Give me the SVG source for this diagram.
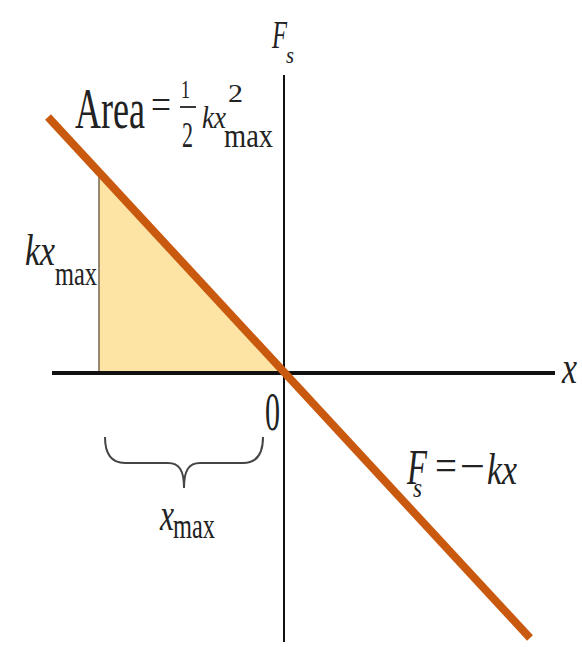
<svg xmlns="http://www.w3.org/2000/svg" width="582" height="647" viewBox="0 0 582 647">
<style>
.t{font-family:"Liberation Serif","Times New Roman",serif;fill:#222}
.i{font-style:italic}
.ax{stroke:#111;fill:none}
</style>
<rect width="582" height="647" fill="#fff"/>
<g id="area">
<polygon points="99,373 99,175 284,373" fill="#fde3a4"/>
<line x1="99" y1="176" x2="99" y2="373" stroke="#7d6e55" stroke-width="1.6"/>
</g>
<g id="connectors">
<line class="ax" x1="52" y1="373" x2="555" y2="373" stroke-width="4"/>
<line class="ax" x1="284" y1="75" x2="284" y2="642" stroke-width="2" stroke="#333"/>
<line x1="48" y1="117" x2="530" y2="638" stroke="#c9590f" stroke-width="8"/>
<path d="M105,437 C105,455 112,463 125,463 L168,463 C179,463 184,470 184,488 C184,470 189,463 200,463 L243,463 C256,463 263,455 263,437" fill="none" stroke="#444" stroke-width="2"/>
</g>
<g id="label-Fs-axis">
<text class="t i" x="272" y="48" font-size="40" textLength="15" lengthAdjust="spacingAndGlyphs">F</text>
<text class="t i" x="286" y="63" font-size="24" textLength="8" lengthAdjust="spacingAndGlyphs">s</text>
</g>
<g id="label-area">
<text class="t" x="75" y="128" font-size="56" textLength="70" lengthAdjust="spacingAndGlyphs">Area</text>
<text class="t" x="151" y="118" font-size="42" textLength="20" lengthAdjust="spacingAndGlyphs">=</text>
<text class="t" x="181" y="98" font-size="26" textLength="9" lengthAdjust="spacingAndGlyphs">1</text>
<line x1="180" y1="107" x2="196" y2="107" stroke="#222" stroke-width="1.8"/>
<text class="t" x="182" y="147" font-size="36" textLength="11" lengthAdjust="spacingAndGlyphs">2</text>
<text class="t i" x="202" y="128" font-size="32" textLength="24" lengthAdjust="spacingAndGlyphs">kx</text>
<text class="t" x="228" y="102" font-size="26" textLength="15" lengthAdjust="spacingAndGlyphs">2</text>
<text class="t" x="224" y="147" font-size="34" textLength="49" lengthAdjust="spacingAndGlyphs">max</text>
</g>
<g id="label-kxmax">
<text class="t i" x="25" y="265" font-size="44" textLength="30" lengthAdjust="spacingAndGlyphs">kx</text>
<text class="t" x="55" y="285" font-size="33" textLength="42" lengthAdjust="spacingAndGlyphs">max</text>
</g>
<g id="label-zero">
<text class="t" x="265" y="430" font-size="54" textLength="15" lengthAdjust="spacingAndGlyphs">0</text>
</g>
<g id="label-xmax">
<text class="t i" x="160" y="530" font-size="46" textLength="14" lengthAdjust="spacingAndGlyphs">x</text>
<text class="t" x="173" y="538" font-size="35" textLength="42" lengthAdjust="spacingAndGlyphs">max</text>
</g>
<g id="label-x-axis">
<text class="t i" x="562" y="383" font-size="46" textLength="15" lengthAdjust="spacingAndGlyphs">x</text>
</g>
<g id="label-law">
<text class="t i" x="407" y="484" font-size="50" textLength="20" lengthAdjust="spacingAndGlyphs">F</text>
<text class="t i" x="413" y="497" font-size="28" textLength="9" lengthAdjust="spacingAndGlyphs">s</text>
<text class="t" x="435" y="480" font-size="44" textLength="22" lengthAdjust="spacingAndGlyphs">=</text>
<text class="t" x="460" y="481" font-size="44" textLength="25" lengthAdjust="spacingAndGlyphs">−</text>
<text class="t i" x="487" y="484" font-size="44" textLength="30" lengthAdjust="spacingAndGlyphs">kx</text>
</g>
</svg>
